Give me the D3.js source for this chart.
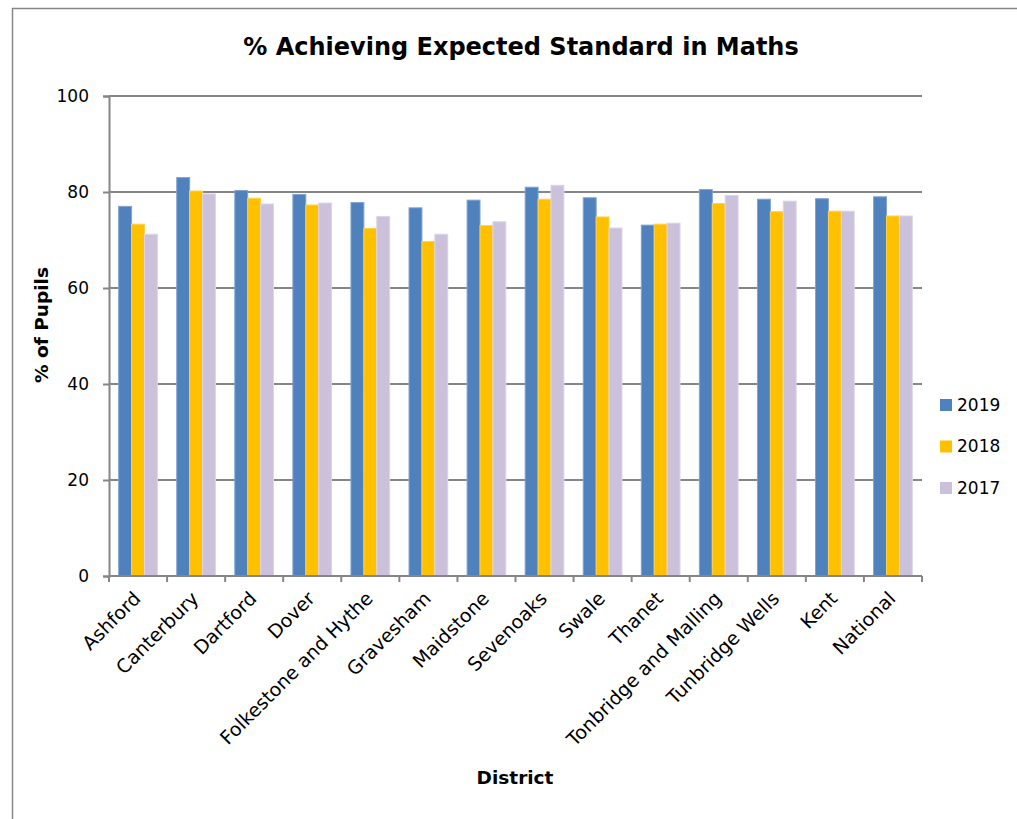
<!DOCTYPE html>
<html><head><meta charset="utf-8">
<script src="https://cdn.jsdelivr.net/npm/d3@7"></script>
<style>body{margin:0;background:#fff}svg{display:block}</style>
</head><body>
<script>
const categories = ["Ashford","Canterbury","Dartford","Dover","Folkestone and Hythe","Gravesham","Maidstone","Sevenoaks","Swale","Thanet","Tonbridge and Malling","Tunbridge Wells","Kent","National"];
const seriesNames = ["2019","2018","2017"];
const values2019 = [77.0,83.0,80.3,79.5,77.8,76.7,78.3,81.0,78.8,73.1,80.5,78.5,78.6,79.0];
const values2018 = [73.3,80.2,78.7,77.3,72.4,69.7,73.0,78.5,74.8,73.3,77.6,75.9,76.0,75.0];
const values2017 = [71.2,79.6,77.5,77.7,74.9,71.2,73.8,81.4,72.5,73.5,79.3,78.1,76.0,75.0];
const yTicks = [0,20,40,60,80,100];
const colors = ["#4F81BD","#FFC000","#CCC1DA"];
const strokes = ["#7FA3D0","#FFD24D","#DDD5E6"];

const W=1017,H=819;
const svg=d3.select("body").append("svg").attr("width",W).attr("height",H);
const font="DejaVu Sans, Verdana, sans-serif";
// outer border
svg.append("rect").attr("x",12.5).attr("y",8.5).attr("width",W+20).attr("height",H+20)
  .attr("fill","none").attr("stroke","#868686").attr("stroke-width",1.5);

const L=109,R=922,T=96,B=576;
const x=d3.scaleBand().domain(categories).range([L,R]).paddingInner(0).paddingOuter(0);
const xs=d3.scaleBand().domain(seriesNames).range([0,x.bandwidth()]).paddingInner(0).paddingOuter(0.75);
const y=d3.scaleLinear().domain([0,100]).range([B,T]);

// gridlines
svg.append("g").selectAll("line").data(yTicks.filter(d=>d>0)).join("line")
  .attr("x1",L).attr("x2",R).attr("y1",d=>y(d)).attr("y2",d=>y(d))
  .attr("stroke","#868686").attr("stroke-width",2);

// y axis
const ya=svg.append("g").attr("transform",`translate(${L},0)`)
  .call(d3.axisLeft(y).tickValues(yTicks).tickSize(6).tickPadding(14).tickFormat(d3.format("d")));
ya.select(".domain").attr("stroke","#868686").attr("stroke-width",2);
ya.selectAll(".tick line").attr("stroke","#868686").attr("stroke-width",2);
ya.selectAll(".tick text").attr("font-family",font).attr("font-size",17).attr("fill","#000");

// bars
const series=[values2019,values2018,values2017];
series.forEach((vals,si)=>{
  svg.append("g").selectAll("rect").data(categories).join("rect")
    .attr("x",(c)=>x(c)+xs(seriesNames[si]))
    .attr("y",(c,i)=>y(vals[i]))
    .attr("width",xs.bandwidth())
    .attr("height",(c,i)=>B-y(vals[i]))
    .attr("fill",colors[si]).attr("stroke",strokes[si]).attr("stroke-width",1);
});

// x axis
const xa=svg.append("g").attr("transform",`translate(0,${B})`);
xa.append("line").attr("x1",L).attr("x2",R).attr("stroke","#868686").attr("stroke-width",2);
const bounds=d3.range(categories.length+1).map(i=>L+i*x.step());
xa.selectAll(".tk").data(bounds).join("line").attr("class","tk")
  .attr("x1",d=>d).attr("x2",d=>d).attr("y1",0).attr("y2",6)
  .attr("stroke","#868686").attr("stroke-width",2);
xa.selectAll(".lbl").data(categories).join("text").attr("class","lbl")
  .attr("transform",d=>`translate(${x(d)+x.bandwidth()/2-1},${19}) rotate(-45)`)
  .attr("text-anchor","end").attr("font-family",font).attr("font-size",19).attr("fill","#000")
  .attr("dy","0.35em").text(d=>d);

// title
svg.append("text").attr("x",521).attr("y",55).attr("text-anchor","middle")
  .attr("font-family",font).attr("font-weight","bold").attr("font-size",24).text("% Achieving Expected Standard in Maths");
svg.append("text").attr("x",515).attr("y",784).attr("text-anchor","middle")
  .attr("font-family",font).attr("font-weight","bold").attr("font-size",18.5).text("District");
svg.append("text").attr("transform","translate(48,325) rotate(-90)").attr("text-anchor","middle")
  .attr("font-family",font).attr("font-weight","bold").attr("font-size",18.5).text("% of Pupils");

// legend
const lg=svg.append("g").selectAll("g").data(seriesNames).join("g")
  .attr("transform",(d,i)=>`translate(940,${405+i*41.5})`);
lg.append("rect").attr("x",0).attr("y",-6).attr("width",12).attr("height",12).attr("fill",(d,i)=>colors[i]);
lg.append("text").attr("x",17).attr("y",0).attr("dy","0.35em").attr("font-family",font).attr("font-size",17).text(d=>d);
</script>
</body></html>
